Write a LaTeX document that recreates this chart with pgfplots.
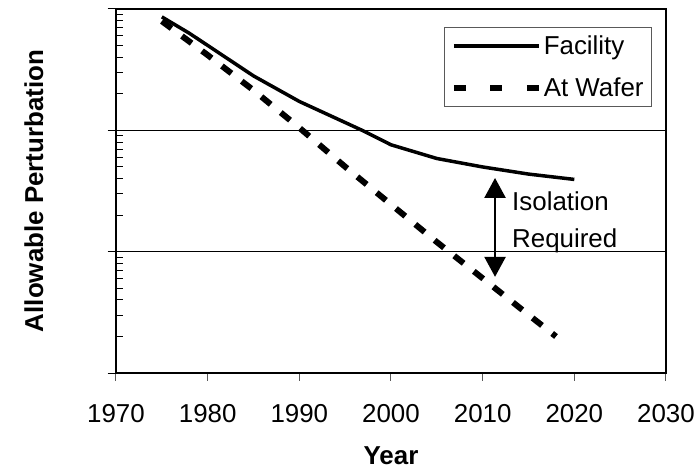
\documentclass[border=0pt]{standalone}
\usepackage{fontspec}
\setmainfont{Liberation Sans}
\usepackage{pgfplots}
\pgfplotsset{compat=1.18}
\usetikzlibrary{arrows.meta}

\begin{document}
\begin{tikzpicture}
\useasboundingbox (-116bp,-95bp) rectangle (578bp,373bp);

\begin{axis}[
    scale only axis,
    width=550bp, height=364bp,
    xmin=1970, xmax=2030,
    ymode=log, ymin=1, ymax=1000,
    xtick={1970,1980,...,2030},
    ytick={1,10,100,1000}, yticklabels={},
    extra y ticks={1,10,100,1000}, extra y tick labels={},
    extra y tick style={ytick align=center, major tick length=17bp, grid=none},
    xtick align=outside, ytick align=inside,
    xtick pos=bottom, ytick pos=left,
    major tick length=8bp, minor tick length=7bp,
    every tick/.style={black, line width=1bp},
    major x tick style={gray!70!black, line width=1bp},
    ymajorgrids, grid style={black, line width=0.8bp},
    axis line style={black, line width=1.5bp},
    /pgf/number format/1000 sep={},
    /pgf/number format/assume math mode=true,
    tick label style={font=\fontsize{26}{30}\selectfont},
    xticklabel style={yshift=-20bp},
    xlabel={\textbf{Year}},
    ylabel={\textbf{Allowable Perturbation}},
    label style={font=\fontsize{26}{30}\selectfont},
    xlabel style={at={(axis description cs:0.5,-0.25)}, anchor=base},
    ylabel style={at={(axis description cs:-0.1327,0.5)}, anchor=base},
    legend cell align=left,
    legend style={
        at={(axis description cs:0.9745,0.9497)}, anchor=north east,
        draw=gray!70!black, line width=0.8bp,
        font=\fontsize{26}{30}\selectfont,
        inner xsep=6bp, inner ysep=6bp,
        row sep=18bp,
        /tikz/every even column/.append style={column sep=2bp},
    },
    legend image code/.code={\draw[#1] (0bp,0bp) -- (85bp,0bp);},
]

\addplot[black, line width=3.5bp, line join=round] coordinates {
    (1975,861) (1978,631) (1980,501) (1985,281) (1990,173) (1995,116)
    (1997,98.8) (2000,76) (2005,58.6) (2010,49.9) (2015,43.6) (2020,39.4)
};
\addlegendentry{Facility}

\addplot[black, line width=6bp, dash pattern=on 12bp off 13bp,
    legend image code/.code={\draw[black, line width=6bp, dash pattern=on 12bp off 24.5bp] (0bp,0bp) -- (85bp,0bp);}]
    coordinates {
    (1975,794) (1980,417) (1985,214) (1990,105) (1995,50.1) (2000,24.5)
    (2005,12.0) (2010,6.03) (2015,3.02) (2018,2.0)
};
\addlegendentry{At Wafer}

\draw[black, line width=2.5bp,
    {Triangle[length=20bp,width=21bp]}-{Triangle[length=20bp,width=21bp]}]
    (axis cs:2011.35,40.5) -- (axis cs:2011.35,6.2);
\node[anchor=base west, inner sep=0pt, font=\fontsize{26}{30}\selectfont]
    at (axis cs:2013.2,22.0) {Isolation};
\node[anchor=base west, inner sep=0pt, font=\fontsize{26}{30}\selectfont]
    at (axis cs:2013.2,10.9) {Required};
\end{axis}
\end{tikzpicture}
\end{document}
